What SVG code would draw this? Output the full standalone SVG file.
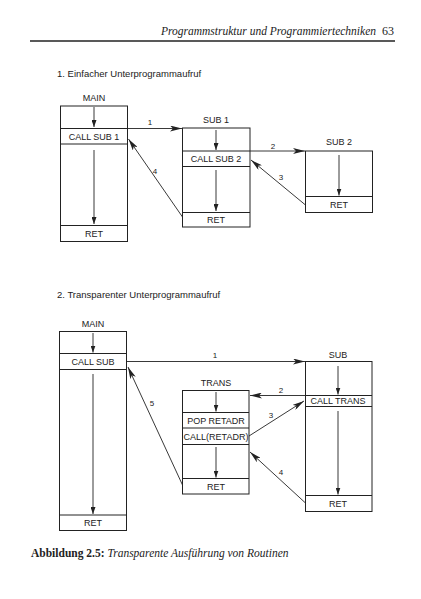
<svg xmlns="http://www.w3.org/2000/svg" width="421" height="599" viewBox="0 0 421 599">
<defs>
<style>
.bx{fill:none;stroke:#222;stroke-width:1}
.ln{stroke:#222;stroke-width:1;fill:none}
.t{font-family:"Liberation Sans",Arial,sans-serif;font-size:9px;fill:#222;text-anchor:middle}
.n{font-family:"Liberation Sans",Arial,sans-serif;font-size:8px;fill:#222;text-anchor:middle}
.h{font-family:"Liberation Sans",Arial,sans-serif;font-size:9.5px;fill:#222}
.c{stroke:#222;stroke-width:0.9;fill:none;marker-end:url(#big)}
.i{stroke:#222;stroke-width:0.9;fill:none;marker-end:url(#sm)}
</style>
<marker id="big" viewBox="0 0 12 6" refX="12" refY="3" markerWidth="12" markerHeight="6" markerUnits="userSpaceOnUse" orient="auto"><path d="M0,0 L12,3 L0,6 L3,3 z" fill="#222"/></marker>
<marker id="sm" viewBox="0 0 7 5" refX="7" refY="2.5" markerWidth="7" markerHeight="5" markerUnits="userSpaceOnUse" orient="auto"><path d="M0,0 L7,2.5 L0,5 z" fill="#222"/></marker>
</defs>
<rect width="421" height="599" fill="#fff"/>
<g id="header">
<text x="376" y="35" font-family="'Liberation Serif','Times New Roman',serif" font-style="italic" font-size="11.5" text-anchor="end" fill="#222">Programmstruktur und Programmiertechniken</text>
<text x="394" y="35" font-family="'Liberation Serif','Times New Roman',serif" font-size="12" text-anchor="end" fill="#222">63</text>
<line x1="30" y1="41" x2="395" y2="41" stroke="#222" stroke-width="1.3"/>
</g>
<text class="h" x="57" y="77">1. Einfacher Unterprogrammaufruf</text>
<text class="h" x="57" y="298">2. Transparenter Unterprogrammaufruf</text>

<g id="main1">
<text class="t" x="94" y="101">MAIN</text>
<rect class="bx" x="60.5" y="106" width="67" height="135.5"/>
<line class="ln" x1="60.5" y1="128.5" x2="127.5" y2="128.5"/>
<line class="ln" x1="60.5" y1="144" x2="127.5" y2="144"/>
<line class="ln" x1="60.5" y1="225.5" x2="127.5" y2="225.5"/>
<text class="t" x="94" y="139.5">CALL SUB 1</text>
<text class="t" x="94" y="237">RET</text>
<line class="i" x1="94" y1="107" x2="94" y2="127"/>
<line class="i" x1="94" y1="150" x2="94" y2="224"/>
</g>
<g id="sub1">
<text class="t" x="216" y="123">SUB 1</text>
<rect class="bx" x="182.5" y="128" width="67.5" height="99"/>
<line class="ln" x1="182.5" y1="151" x2="250" y2="151"/>
<line class="ln" x1="182.5" y1="166.5" x2="250" y2="166.5"/>
<line class="ln" x1="182.5" y1="212.5" x2="250" y2="212.5"/>
<text class="t" x="216" y="162">CALL SUB 2</text>
<text class="t" x="216" y="223">RET</text>
<line class="i" x1="216" y1="130" x2="216" y2="150"/>
<line class="i" x1="216" y1="170" x2="216" y2="211"/>
</g>
<g id="sub2">
<text class="t" x="339" y="145">SUB 2</text>
<rect class="bx" x="305.5" y="151" width="67" height="61.5"/>
<line class="ln" x1="305.5" y1="196.5" x2="372.5" y2="196.5"/>
<text class="t" x="339" y="208">RET</text>
<line class="i" x1="339" y1="155" x2="339" y2="195.5"/>
</g>

<g id="main2">
<text class="t" x="93" y="327">MAIN</text>
<rect class="bx" x="59.5" y="331.5" width="67" height="199"/>
<line class="ln" x1="59.5" y1="353.5" x2="126.5" y2="353.5"/>
<line class="ln" x1="59.5" y1="369.5" x2="126.5" y2="369.5"/>
<line class="ln" x1="59.5" y1="515" x2="126.5" y2="515"/>
<text class="t" x="93" y="364.5">CALL SUB</text>
<text class="t" x="93" y="526">RET</text>
<line class="i" x1="93" y1="333" x2="93" y2="352.5"/>
<line class="i" x1="93" y1="374" x2="93" y2="514"/>
</g>
<g id="trans">
<text class="t" x="216" y="386">TRANS</text>
<rect class="bx" x="182.5" y="390.5" width="66.5" height="103.5"/>
<line class="ln" x1="182.5" y1="412.5" x2="249" y2="412.5"/>
<line class="ln" x1="182.5" y1="428" x2="249" y2="428"/>
<line class="ln" x1="182.5" y1="444.5" x2="249" y2="444.5"/>
<line class="ln" x1="182.5" y1="478.5" x2="249" y2="478.5"/>
<text class="t" x="216" y="423.5">POP RETADR</text>
<text class="t" x="216" y="439.5">CALL(RETADR)</text>
<text class="t" x="216" y="490">RET</text>
<line class="i" x1="216" y1="392" x2="216" y2="411.5"/>
<line class="i" x1="216" y1="447" x2="216" y2="477.5"/>
</g>
<g id="sub">
<text class="t" x="338" y="358">SUB</text>
<rect class="bx" x="305.5" y="361.5" width="66.5" height="150"/>
<line class="ln" x1="305.5" y1="395.5" x2="372" y2="395.5"/>
<line class="ln" x1="305.5" y1="406.5" x2="372" y2="406.5"/>
<line class="ln" x1="305.5" y1="495.5" x2="372" y2="495.5"/>
<text class="t" x="338" y="403.5">CALL TRANS</text>
<text class="t" x="338" y="507">RET</text>
<line class="i" x1="338" y1="366" x2="338" y2="394.5"/>
<line class="i" x1="338" y1="411" x2="338" y2="494.5"/>
</g>

<g id="connectors">
<line class="c" x1="127.5" y1="128.5" x2="182" y2="128.5"/>
<line class="c" x1="250" y1="151" x2="305" y2="151"/>
<line class="c" x1="305.5" y1="205" x2="251" y2="160"/>
<line class="c" x1="182.5" y1="217" x2="128.5" y2="139"/>
<line class="c" x1="126.5" y1="361.5" x2="305" y2="361.5"/>
<line class="c" x1="305.5" y1="395.5" x2="250" y2="395.5"/>
<line class="c" x1="249" y1="436" x2="304" y2="401"/>
<line class="c" x1="305.5" y1="503" x2="250" y2="452"/>
<line class="c" x1="182.5" y1="485" x2="128" y2="367"/>
<text class="n" x="150" y="125">1</text>
<text class="n" x="273" y="149">2</text>
<text class="n" x="281" y="180">3</text>
<text class="n" x="155" y="174">4</text>
<text class="n" x="215" y="358">1</text>
<text class="n" x="281" y="393">2</text>
<text class="n" x="271" y="418">3</text>
<text class="n" x="281" y="475">4</text>
<text class="n" x="152" y="406">5</text>
</g>
<g id="caption">
<text x="31" y="557" font-family="'Liberation Serif','Times New Roman',serif" font-size="11.5" fill="#222"><tspan font-weight="bold">Abbildung 2.5:</tspan><tspan font-style="italic"> Transparente Ausführung von Routinen</tspan></text>
</g>
</svg>
